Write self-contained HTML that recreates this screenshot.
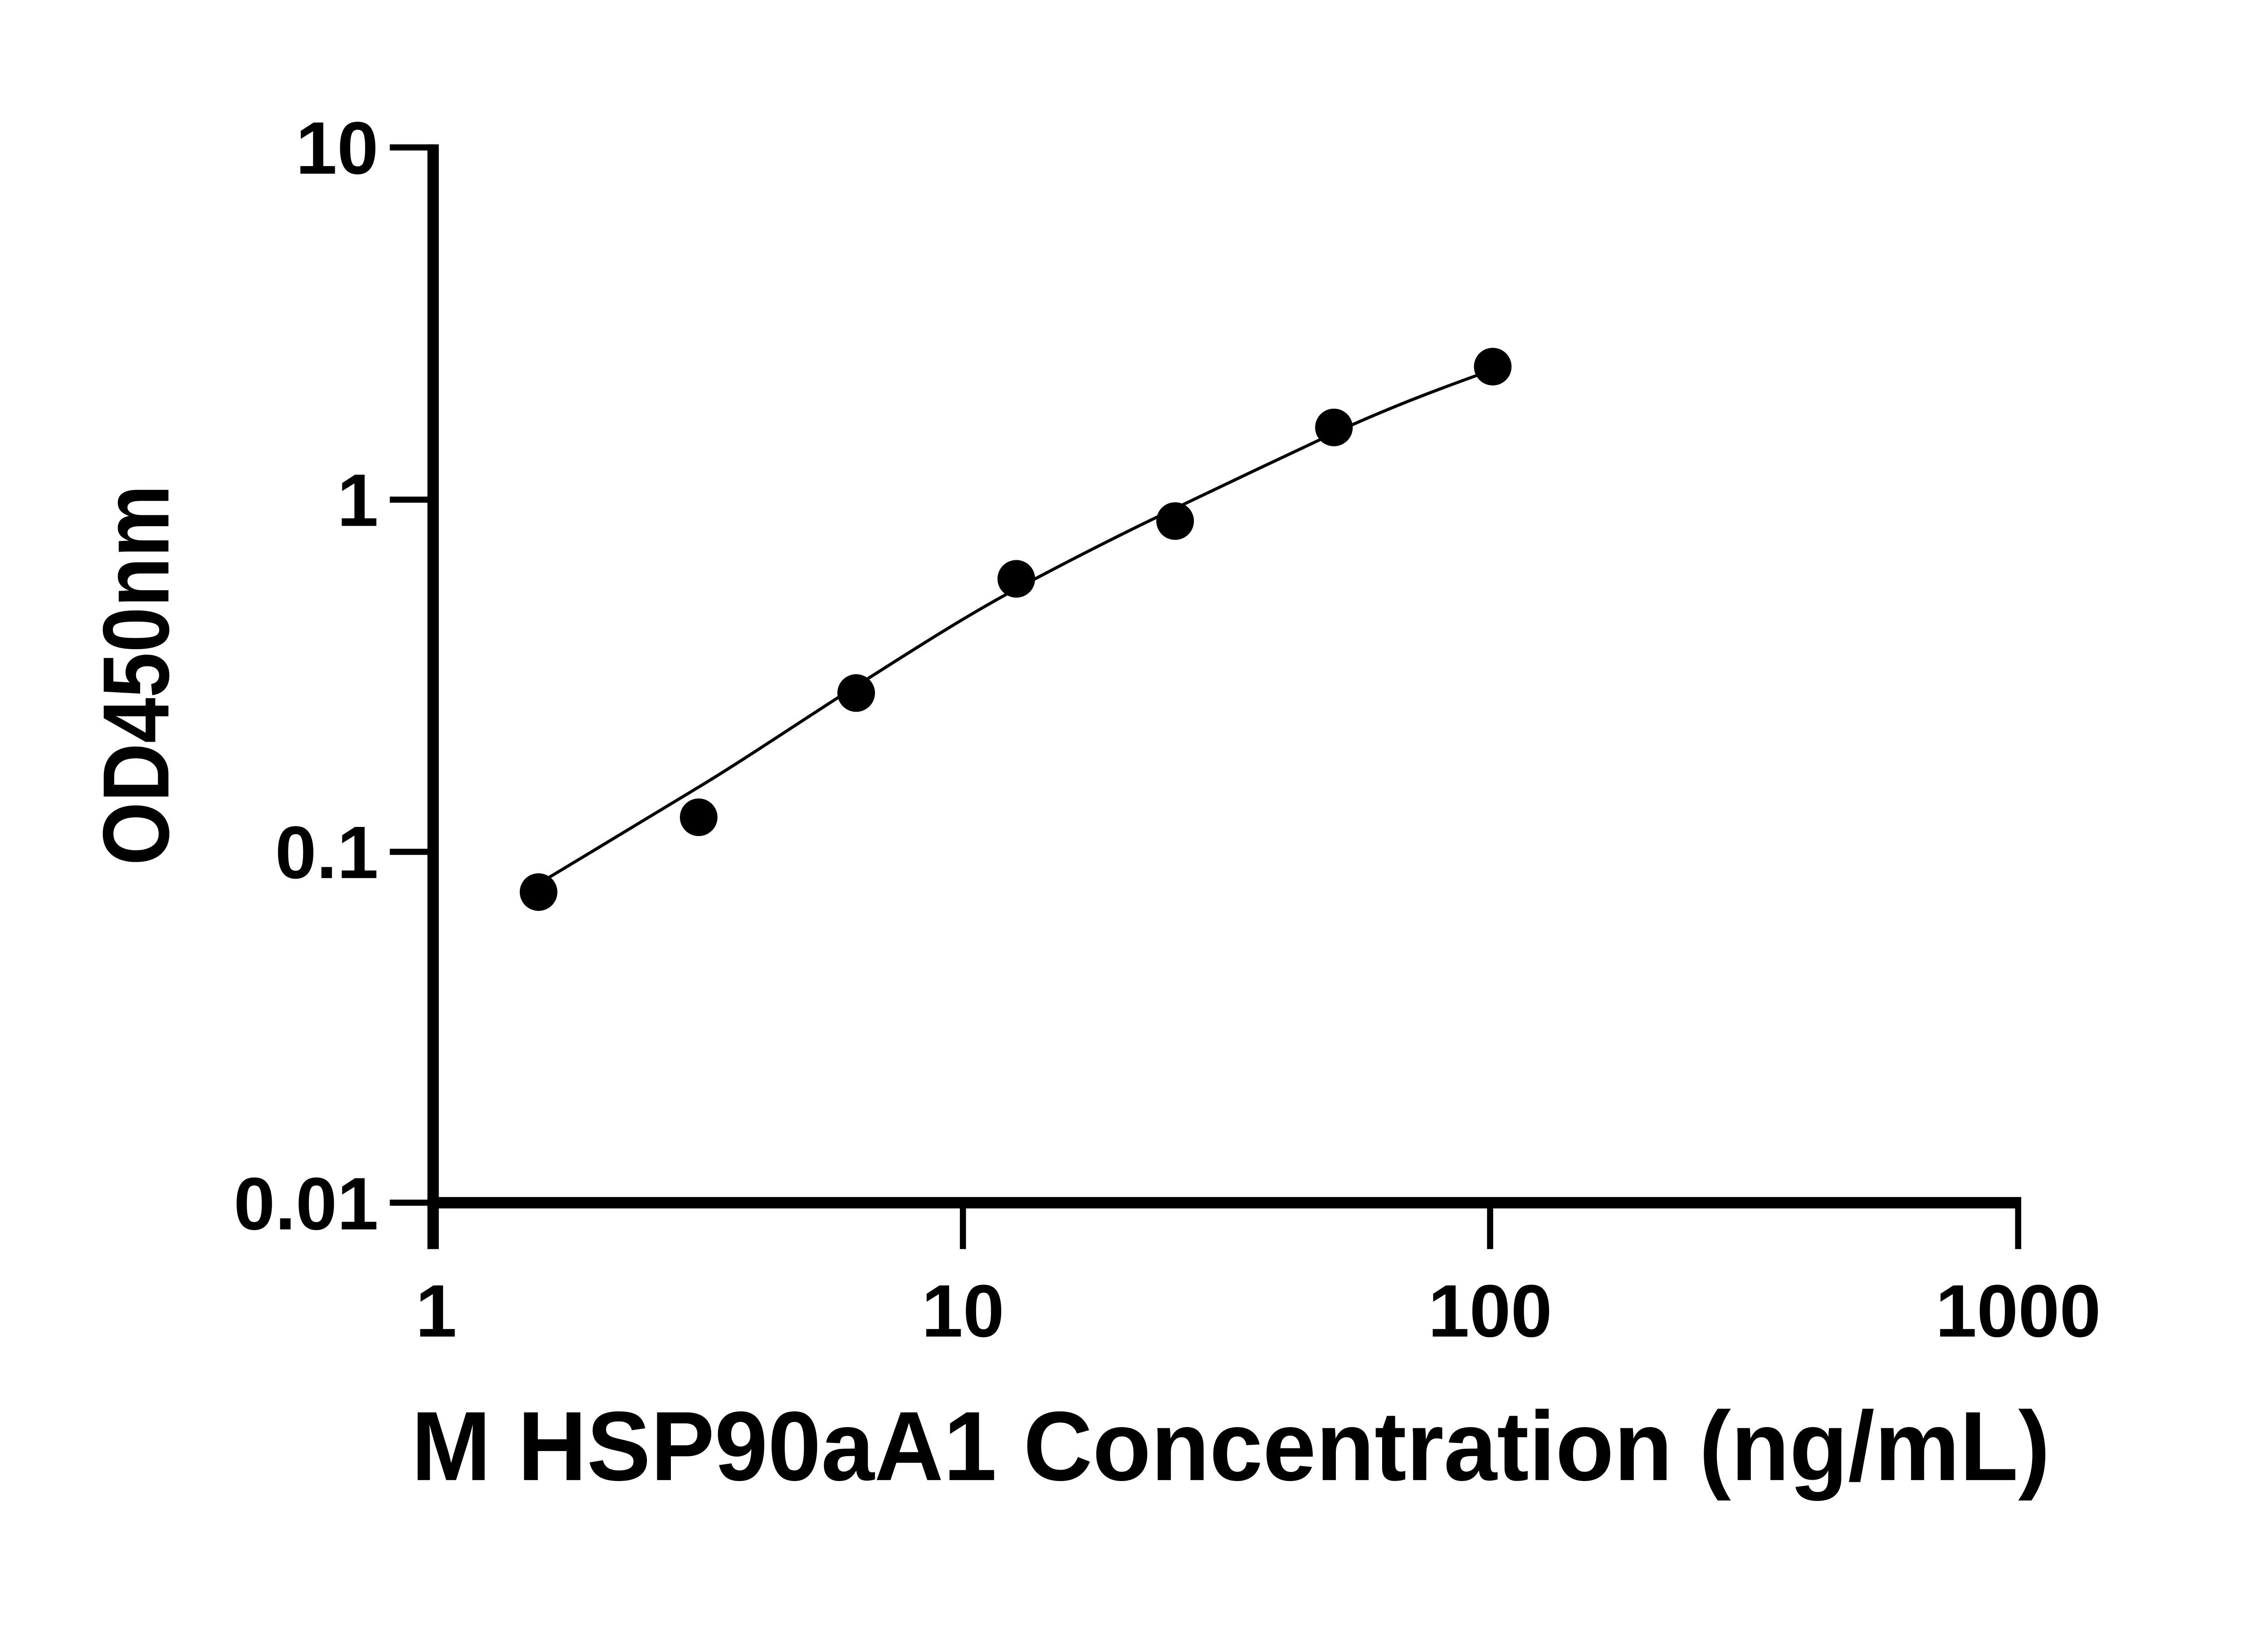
<!DOCTYPE html>
<html><head><meta charset="utf-8"><style>html,body{margin:0;padding:0;background:#fff}svg{display:block}</style></head>
<body>
<svg width="5142" height="3600" viewBox="0 0 5142 3600" xmlns="http://www.w3.org/2000/svg">
<rect width="5142" height="3600" fill="#fff"/>
<g transform="scale(0.9645)">
<g stroke="#000" fill="none" stroke-linecap="butt">
<line x1="990" y1="330" x2="990" y2="2855" stroke-width="26"/>
<line x1="977" y1="2749" x2="4620" y2="2749" stroke-width="26"/>
<g stroke-width="14">
<line x1="891" y1="337" x2="990" y2="337"/>
<line x1="891" y1="1142" x2="990" y2="1142"/>
<line x1="891" y1="1947" x2="990" y2="1947"/>
<line x1="891" y1="2749" x2="990" y2="2749"/>
<line x1="2201" y1="2749" x2="2201" y2="2855"/>
<line x1="3406" y1="2749" x2="3406" y2="2855"/>
<line x1="4613" y1="2749" x2="4613" y2="2855"/>
</g>
<path stroke-width="7" d="M1231,2020 C1350,1948 1480,1870 1597,1799 S1840,1642 1957,1568 S2200,1412 2323,1346 S2560,1222 2686,1162 S2920,1050 3049,990 S3300,885 3412,845"/>
</g>
<g fill="#000">
<circle cx="1231" cy="2039" r="43"/>
<circle cx="1597" cy="1868" r="43"/>
<circle cx="1957" cy="1584" r="43"/>
<circle cx="2323" cy="1323" r="43"/>
<circle cx="2686" cy="1191" r="43"/>
<circle cx="3049" cy="977" r="43"/>
<circle cx="3412" cy="838" r="43"/>
</g>
<g font-family="Liberation Sans, sans-serif" font-weight="bold" fill="#000">
<g font-size="170" text-anchor="end">
<text x="865" y="397">10</text>
<text x="865" y="1202">1</text>
<text x="865" y="2007">0.1</text>
<text x="865" y="2810">0.01</text>
</g>
<g font-size="170" text-anchor="middle">
<text x="997" y="3055">1</text>
<text x="2201" y="3055">10</text>
<text x="3406" y="3055">100</text>
<text x="4613" y="3055">1000</text>
</g>
<text x="940" y="3383" font-size="225" textLength="3746" lengthAdjust="spacingAndGlyphs">M HSP90aA1 Concentration (ng/mL)</text>
<text transform="translate(385,1543) rotate(-90)" text-anchor="middle" font-size="215" textLength="870" lengthAdjust="spacingAndGlyphs">OD450nm</text>
</g>
</g>
</svg>
</body></html>
